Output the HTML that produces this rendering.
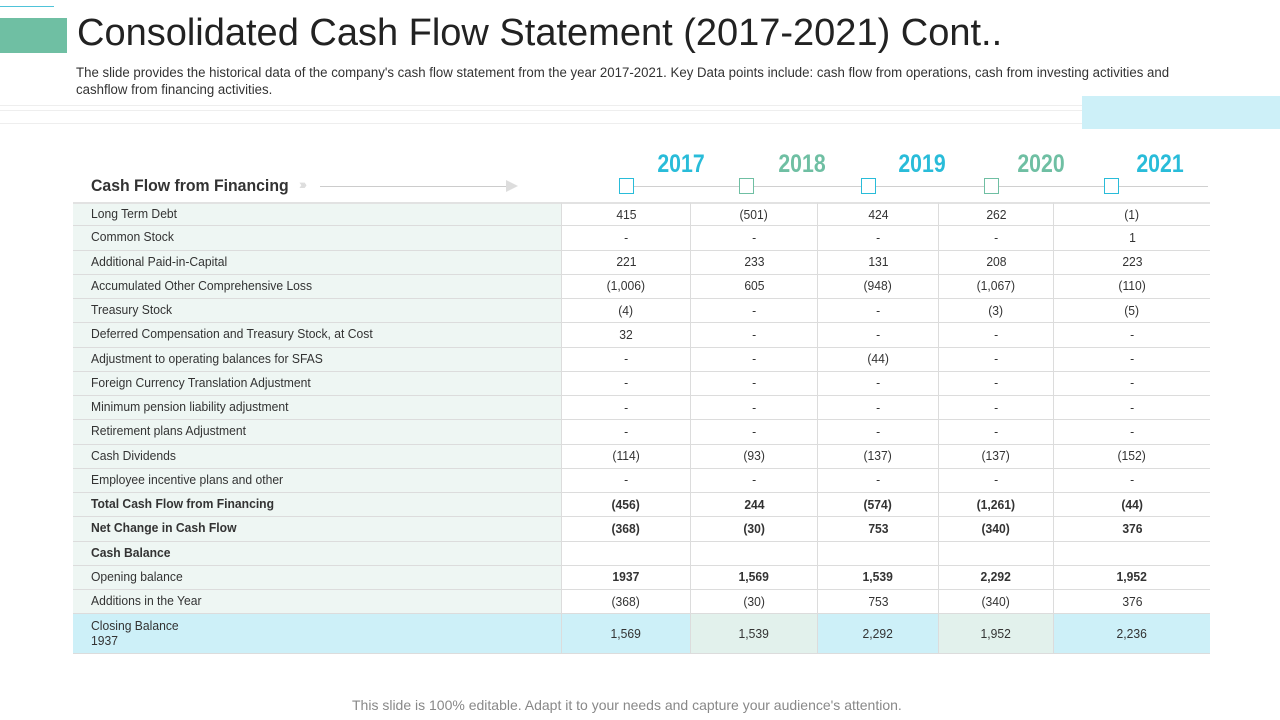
<!DOCTYPE html>
<html><head><meta charset="utf-8"><style>
body{margin:0;width:1280px;height:720px;background:#fff;position:relative;overflow:hidden;font-family:"Liberation Sans",sans-serif;color:#333}
.abs{position:absolute}
.sq{position:absolute;white-space:nowrap;transform-origin:0 50%}
.cell{position:absolute;box-sizing:border-box;font-size:12.5px;display:flex;align-items:center;border-bottom:1px solid #dcdcdc}
.cell span{display:inline-block;transform:scaleX(.97)}
</style></head><body>
<div class="abs" style="left:0;top:18px;width:67px;height:35px;background:#6fbfa3"></div>
<div class="abs" style="left:0;top:6px;width:54px;height:1px;background:#4fc3d9"></div>
<div class="sq" style="left:77px;top:12px;font-size:38px;color:#222;transform:scaleX(1.0)">Consolidated Cash Flow Statement (2017-2021) Cont..</div>
<div class="sq" style="left:76px;top:64px;font-size:13.5px;line-height:17px;color:#333;transform:scaleX(.98);transform-origin:0 0">The slide provides the historical data of the company's cash flow statement from the year 2017-2021. Key Data points include: cash flow from operations, cash from investing activities and<br>cashflow from financing activities.</div>
<div class="abs" style="left:0;top:105px;width:1082px;height:17px;border-top:1px solid #eee;border-bottom:1px solid #eee"><div style="margin-top:4px;border-top:1px solid #eee"></div></div>
<div class="abs" style="left:1082px;top:96px;width:198px;height:33px;background:#cdf0f8"></div>
<div class="sq" style="left:91px;top:176px;font-size:17px;font-weight:bold;color:#333;transform:scaleX(.93)">Cash Flow from Financing</div>
<div class="abs" style="left:299px;top:176px;font-size:14px;font-weight:bold;color:#ddd;letter-spacing:-3px">›››</div>
<div class="abs" style="left:320px;top:186px;width:188px;height:1px;background:#ccc"></div>
<div class="abs" style="left:506px;top:180px;width:0;height:0;border-left:12px solid #ddd;border-top:6px solid transparent;border-bottom:6px solid transparent"></div>
<div class="abs" style="left:626px;top:186px;width:582px;height:1px;background:#d0d0d0"></div>
<div id="tbl"></div>
<div class="sq" style="left:352px;top:697px;font-size:14px;color:#888">This slide is 100% editable. Adapt it to your needs and capture your audience's attention.</div>
<script>
const years=["2017","2018","2019","2020","2021"];
const labels=["Long Term Debt","Common Stock","Additional Paid-in-Capital","Accumulated Other Comprehensive Loss","Treasury Stock","Deferred Compensation and Treasury Stock, at Cost","Adjustment to operating balances for SFAS","Foreign Currency Translation Adjustment","Minimum pension liability adjustment","Retirement plans Adjustment","Cash Dividends","Employee incentive plans and other","Total Cash Flow from Financing","Net Change in Cash Flow","Cash Balance","Opening balance","Additions in the Year","Closing Balance<br>1937"];
const boldLabel=[12,13,14];
const boldVals=[12,13,15];
const v2017=["415","-","221","(1,006)","(4)","32","-","-","-","-","(114)","-","(456)","(368)","","1937","(368)","1,569"];
const v2018=["(501)","-","233","605","-","-","-","-","-","-","(93)","-","244","(30)","","1,569","(30)","1,539"];
const v2019=["424","-","131","(948)","-","-","(44)","-","-","-","(137)","-","(574)","753","","1,539","753","2,292"];
const v2020=["262","-","208","(1,067)","(3)","-","-","-","-","-","(137)","-","(1,261)","(340)","","2,292","(340)","1,952"];
const v2021=["(1)","1","223","(110)","(5)","-","-","-","-","-","(152)","-","(44)","376","","1,952","376","2,236"];
const series=[v2017,v2018,v2019,v2020,v2021];
const colX=[73,561,690,817,938,1053,1210];
const yearColor=["#29bcd9","#6fbfa3","#29bcd9","#6fbfa3","#29bcd9"];
const yearX=[684,805,925,1044,1163];
const boxX=[619,739,861,984,1104];
const top0=202,rh=24.25;
const tbl=document.getElementById('tbl');
years.forEach((y,i)=>{
  const t=document.createElement('div');
  
  
  t.className='sq';t.textContent=y;
  t.style.cssText=`left:${yearX[i]-33}px;top:150px;width:60px;font-size:25px;font-weight:bold;color:${yearColor[i]};transform:scaleX(.85);transform-origin:50% 50%;text-align:center`;
  document.body.appendChild(t);
  const b=document.createElement('div');
  
  
  b.className='abs';
  b.style.cssText=`left:${boxX[i]}px;top:178px;width:13px;height:14px;background:#fff;border:1.5px solid ${i%2?'#6fbfa3':'#29bcd9'}`;
  document.body.appendChild(b);
});
labels.forEach((lab,r)=>{
  const last=r===labels.length-1;
  const y=top0+r*rh, h=last?40:rh;
  const c=document.createElement('div');
  
  
  c.className='cell';
  c.style.cssText=`left:${colX[0]}px;top:${y}px;width:${colX[1]-colX[0]}px;height:${h}px;padding-left:18px;background:${last?'#cdf0f8':'#eef6f3'};line-height:15px;${boldLabel.includes(r)?'font-weight:bold;':''}${r===0?'border-top:2px solid #e2e2e2;':''}`;
  c.innerHTML='<span style="transform-origin:0 50%">'+lab+'</span>';
  tbl.appendChild(c);
  series.forEach((s,i)=>{
    const d=document.createElement('div');
    
    
    d.className='cell';
    const bg=last?(i%2?'#e2f1ec':'#cdf0f8'):'#fff';
    d.style.cssText=`left:${colX[i+1]}px;top:${y}px;width:${colX[i+2]-colX[i+1]}px;height:${h}px;justify-content:center;border-left:1px solid #dcdcdc;background:${bg};${boldVals.includes(r)?'font-weight:bold;':''}${r===0?'border-top:2px solid #e2e2e2;':''}`;
    d.innerHTML='<span>'+s[r]+'</span>';
    tbl.appendChild(d);
  });
});
</script>
</body></html>
